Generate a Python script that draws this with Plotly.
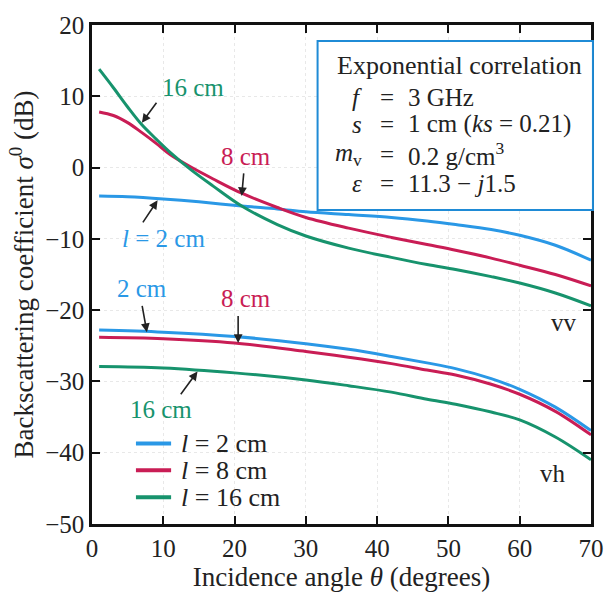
import plotly.graph_objects as go

# Incidence angle (degrees) and backscattering coefficient (dB)
# vv polarisation
vv_2_theta = [1, 5, 10, 15, 21, 26, 30, 36, 42, 47, 51, 56, 60, 65, 70]
vv_2 = [-4.0, -4.1, -4.4, -4.8, -5.4, -5.8, -6.2, -6.6, -7.0, -7.5, -8.0, -8.7, -9.5, -10.9, -13.0]

vv_8_theta = [1, 3, 5, 7, 9, 11, 14, 17, 21, 26, 30, 36, 42, 47, 51, 56, 60, 65, 70]
vv_8 = [7.8, 7.3, 6.3, 4.9, 3.4, 1.8, 0.0, -1.6, -3.6, -5.6, -7.0, -8.5, -9.8, -10.8, -11.6, -12.7, -13.7, -15.0, -16.6]

vv_16_theta = [1, 3, 5, 7, 9, 11, 14, 17, 21, 26, 30, 36, 42, 47, 51, 56, 60, 65, 70]
vv_16 = [13.8, 11.2, 8.5, 6.0, 4.0, 2.1, -0.4, -2.6, -5.4, -8.0, -9.6, -11.3, -12.6, -13.6, -14.3, -15.3, -16.2, -17.6, -19.4]

# vh polarisation
vh_theta = [1, 10, 20, 30, 36, 42, 47, 51, 56, 60, 65, 70]
vh_2 = [-22.8, -23.1, -23.7, -24.7, -25.5, -26.5, -27.4, -28.2, -29.6, -31.1, -33.6, -36.9]
vh_8 = [-23.8, -24.0, -24.6, -25.8, -26.6, -27.5, -28.4, -29.1, -30.4, -31.8, -34.2, -37.5]
vh_16 = [-27.9, -28.1, -28.8, -29.8, -30.6, -31.5, -32.5, -33.2, -34.3, -35.4, -37.8, -41.0]

x_ticks = [0, 10, 20, 30, 40, 50, 60, 70]
y_ticks = [-50, -40, -30, -20, -10, 0, 10, 20]

legend_labels = ["<i>l</i> = 2 cm", "<i>l</i> = 8 cm", "<i>l</i> = 16 cm"]

BLUE = "#2a98e6"
RED = "#c91d55"
GREEN = "#17936d"
SERIF = "Liberation Serif, Tinos, Times New Roman, serif"
INK = "#222222"

fig = go.Figure()

series = [
    (vv_2_theta, vv_2, BLUE, legend_labels[0]),
    (vv_8_theta, vv_8, RED, legend_labels[1]),
    (vv_16_theta, vv_16, GREEN, legend_labels[2]),
    (vh_theta, vh_2, BLUE, legend_labels[0]),
    (vh_theta, vh_8, RED, legend_labels[1]),
    (vh_theta, vh_16, GREEN, legend_labels[2]),
]
for xs, ys, col, name in series:
    fig.add_trace(go.Scatter(
        x=xs, y=ys, mode="lines", name=name, showlegend=False,
        line=dict(color=col, width=3, shape="spline", smoothing=1.0),
    ))


def px_x(p):
    return (p - 92) / 511


def px_y(p):
    return (524 - p) / 502


# Compact key: colour swatch + label per correlation length
for i, (name, col) in enumerate(zip(legend_labels, [BLUE, RED, GREEN])):
    py = 443 + 27 * i
    fig.add_shape(type="line", xref="paper", yref="paper",
                  x0=px_x(137), x1=px_x(173), y0=px_y(py), y1=px_y(py),
                  line=dict(color=col, width=4))
    fig.add_annotation(xref="paper", yref="paper", x=px_x(181), y=px_y(py),
                       xanchor="left", yanchor="middle", showarrow=False,
                       text=name, font=dict(family=SERIF, size=26, color=INK))

# Curve labels with pointer arrows (head on curve, tail at label)
labels = [
    # text, colour, label x, label y, arrow head x, head y, tail x, tail y
    ("16 cm", GREEN, 14.1, 11.3, 7.0, 6.3, 9.2, 9.3),
    ("8 cm", RED, 21.6, 1.5, 21.0, -4.0, 21.3, -0.6),
    ("<i>l</i> = 2 cm", BLUE, 10.0, -10.0, 9.2, -4.6, 7.0, -7.9),
    ("2 cm", BLUE, 7.0, -17.0, 7.7, -23.1, 7.0, -19.2),
    ("8 cm", RED, 21.6, -18.3, 20.5, -24.6, 20.5, -20.6),
    ("16 cm", GREEN, 9.7, -33.9, 14.8, -28.6, 12.3, -32.0),
]
for text, col, lx, ly, hx, hy, tx, ty in labels:
    fig.add_annotation(x=lx, y=ly, text=text, showarrow=False,
                       font=dict(family=SERIF, size=25, color=col))
    fig.add_annotation(x=hx, y=hy, ax=tx, ay=ty, axref="x", ayref="y",
                       text="", showarrow=True, arrowhead=2, arrowsize=1.1,
                       arrowwidth=1.6, arrowcolor=INK)

fig.add_annotation(x=66.2, y=-21.8, text="vv", showarrow=False,
                   font=dict(family=SERIF, size=25, color=INK))
fig.add_annotation(x=64.7, y=-42.9, text="vh", showarrow=False,
                   font=dict(family=SERIF, size=25, color=INK))

# Parameter box
fig.add_shape(type="rect", xref="paper", yref="paper",
              x0=px_x(323), x1=px_x(605), y0=px_y(208), y1=px_y(38),
              line=dict(color="#1f8bd6", width=2), fillcolor="white", layer="above")

box_font = dict(family=SERIF, size=25, color=INK)

fig.add_annotation(xref="paper", yref="paper", x=px_x(341), y=px_y(63),
                   xanchor="left", yanchor="middle", showarrow=False,
                   text="Exponential correlation", font=dict(family=SERIF, size=26, color=INK))
rows = [
    ("<i>f</i>", "3 GHz", 95),
    ("<i>s</i>", "1 cm (<i>ks</i> = 0.21)", 122),
    ("<i>m</i><sub>v</sub>", "0.2 g/cm<sup>3</sup>", 152),
    ("<i>ε</i>", "11.3 − <i>j</i>1.5", 181),
]
for sym, val, py in rows:
    fig.add_annotation(xref="paper", yref="paper", x=px_x(371), y=px_y(py),
                       xanchor="right", yanchor="middle", showarrow=False,
                       text=sym, font=box_font)
    fig.add_annotation(xref="paper", yref="paper", x=px_x(394), y=px_y(py),
                       xanchor="center", yanchor="middle", showarrow=False,
                       text="=", font=box_font)
    fig.add_annotation(xref="paper", yref="paper", x=px_x(414), y=px_y(py),
                       xanchor="left", yanchor="middle", showarrow=False,
                       text=val, font=box_font)

axis_common = dict(
    showline=True, linecolor="#111111", linewidth=2.5, mirror="ticks",
    ticks="inside", ticklen=8, tickwidth=2, tickcolor="#111111",
    showgrid=True, gridcolor="#e8e8e8", griddash="dot", gridwidth=1,
    zeroline=False,
    tickfont=dict(family=SERIF, size=25, color=INK),
)

fig.update_layout(
    width=616, height=599,
    margin=dict(l=92, r=13, t=22, b=75),
    paper_bgcolor="white", plot_bgcolor="white",
    font=dict(family=SERIF, color=INK),
    showlegend=False,
    xaxis=dict(range=[0, 70], tickvals=x_ticks,
               title=dict(text="Incidence angle <i>θ</i> (degrees)",
                          font=dict(family=SERIF, size=27), standoff=4),
               **axis_common),
    yaxis=dict(range=[-50, 20], tickvals=y_ticks,
               ticktext=[str(v).replace("-", "−") for v in y_ticks],
               title=dict(text="Backscattering coefficient <i>σ</i><sup>0</sup> (dB)",
                          font=dict(family=SERIF, size=27), standoff=4),
               **axis_common),
)

fig.write_html("out.html")
